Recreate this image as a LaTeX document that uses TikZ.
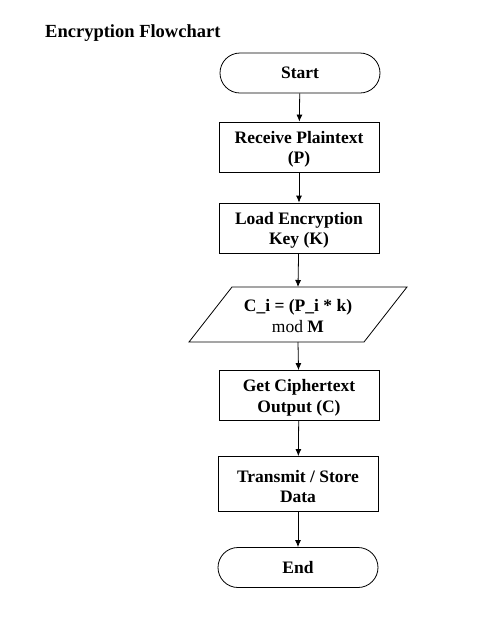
\documentclass[tikz,border=0pt]{standalone}
\usepackage{fontspec}
\setmainfont{Liberation Serif}
\usetikzlibrary{arrows.meta,shapes.geometric}
\begin{document}
\begin{tikzpicture}[x=1pt,y=-1pt,
  every node/.style={font=\fontsize{17.5}{20.5}\selectfont\bfseries, align=center},
  term/.style={draw, rounded corners=20pt, minimum width=160pt, minimum height=40pt, line width=0.8pt},
  proc/.style={draw, minimum width=160pt, minimum height=50pt, line width=0.8pt},
  conn/.style={-{Latex[length=7pt,width=6pt]}, line width=0.8pt}]
\useasboundingbox (0,0) rectangle (487,625);
\node[anchor=west, inner sep=0pt, font=\fontsize{18.5}{21}\selectfont\bfseries] (title) at (45,33) {Encryption Flowchart};
\node[term] (start) at (300,73) {Start};
\node[proc] (recv) at (299,147) {};
\node (recvt) at (299,149.5) {Receive Plaintext\\(P)};
\node[proc] (load) at (299,228) {};
\node (loadt) at (299,230.5) {Load Encryption\\Key (K)};
\coordinate (pa) at (232,287);
\coordinate (pb) at (407,287);
\coordinate (pc) at (364,342);
\coordinate (pd) at (189,342);
\draw[line width=0.8pt] (pa) -- (pb) -- (pc) -- (pd) -- cycle;
\node (calc) at (298,316) {C\_i = (P\_i * k)\\\mdseries mod \textbf{M}};
\coordinate (ptop) at (298,287);
\coordinate (pbot) at (298,342);
\node[proc] (cipher) at (299,395.5) {};
\node (ciphert) at (299,398) {Get Ciphertext\\Output (C)};
\node[proc, minimum height=55pt] (trans) at (298,484) {};
\node (transt) at (298,486.5) {Transmit / Store\\Data};
\node[term] (end) at (298,567.5) {End};
\draw[conn] (start) -- (recv);
\draw[conn] (recv) -- (load);
\draw[conn] (load) -- (ptop);
\draw[conn] (pbot) -- (cipher);
\draw[conn] (cipher) -- (trans);
\draw[conn] (trans) -- (end);
\end{tikzpicture}
\end{document}
